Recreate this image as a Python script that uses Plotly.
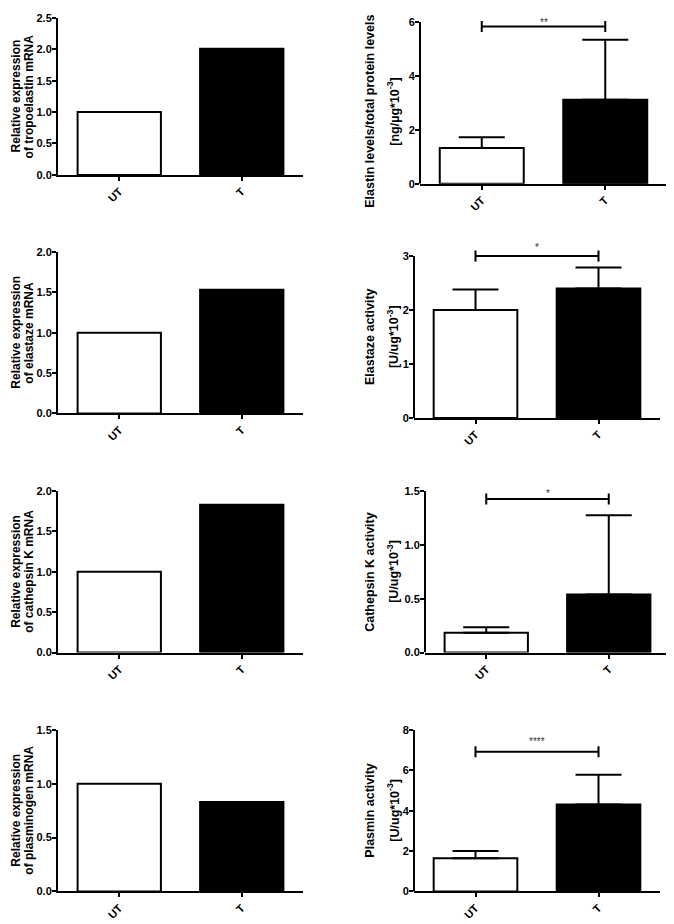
import plotly.graph_objects as go

categories = ["UT", "T"]

# Left column: relative mRNA expression (UT, T)
tropoelastin_mrna = [1.00, 2.01]
elastaze_mrna = [1.00, 1.53]
cathepsin_k_mrna = [1.00, 1.83]
plasminogen_mrna = [1.00, 0.83]

# Right column: protein levels / activities (mean, upward SD)
elastin_levels = [1.33, 3.11]
elastin_levels_sd = [0.39, 2.23]
elastaze_activity = [2.00, 2.40]
elastaze_activity_sd = [0.38, 0.39]
cathepsin_k_activity = [0.185, 0.54]
cathepsin_k_activity_sd = [0.05, 0.735]
plasmin_activity = [1.65, 4.30]
plasmin_activity_sd = [0.35, 1.48]

# Significance brackets for the right column
significance = ["**", "*", "*", "****"]
sig_bracket_y = [5.83, 3.00, 1.427, 6.92]
sig_label_y = [6.04, 3.19, 1.496, 7.54]

# Axis ticks per panel (row-major: L1, R1, L2, R2, ...)
y_max = [2.5, 6, 2.0, 3, 2.0, 1.5, 1.5, 8]
y_dtick = [0.5, 2, 0.5, 1, 0.5, 0.5, 0.5, 2]
y_format = [".1f", "d", ".1f", "d", ".1f", ".1f", ".1f", "d"]

left_titles = [
    ["Relative expression", "of tropoelastin mRNA"],
    ["Relative expression", "of elastaze mRNA"],
    ["Relative expression", "of cathepsin K mRNA"],
    ["Relative expression", "of plasminogen mRNA"],
]
right_titles = [
    ["Elastin levels/total protein levels", "[ng/µg*10<sup>-3</sup>]"],
    ["Elastaze activity", "[U/ug*10<sup>-3</sup>]"],
    ["Cathepsin K activity", "[U/ug*10<sup>-3</sup>]"],
    ["Plasmin activity", "[U/ug*10<sup>-3</sup>]"],
]

left_values = [tropoelastin_mrna, elastaze_mrna, cathepsin_k_mrna, plasminogen_mrna]
right_values = [elastin_levels, elastaze_activity, cathepsin_k_activity, plasmin_activity]
right_sds = [elastin_levels_sd, elastaze_activity_sd, cathepsin_k_activity_sd, plasmin_activity_sd]

# ---- layout (page pixels; the page body has an 8px margin) ----
W, H = 674, 924
OFF = 8
boxes = [  # x0, x1, ytop (top tick), ybottom
    (58, 303, 12, 171), (420, 667, 16, 180),
    (58, 303, 249, 412.7), (414, 660, 253.3, 417.3),
    (58, 303, 491.3, 655), (425, 670, 491.3, 655),
    (58, 303, 733.3, 897), (414, 660, 733.3, 897),
]
left_title_x = (16, 29)
right_title_x = (370, 393)
title_center_shift = [0, 9, 0, 0, 0, 0, 0, 0]
left_title_size = 12
right_title_size = 12.5


def fx(px):
    return (px - OFF) / W


def fy(py):
    return 1 - (py - OFF) / H


FONT = "Liberation Sans"
fig = go.Figure()
layout = dict(
    width=W, height=H, margin=dict(l=0, r=0, t=0, b=0),
    paper_bgcolor="white", plot_bgcolor="white", showlegend=False,
)
shapes, annotations = [], []

for i in range(8):
    row, col = divmod(i, 2)
    n = i + 1
    sfx = str(n) if n > 1 else ""
    xa, ya = "x" + sfx, "y" + sfx
    if col == 0:
        vals, sd, titles, tx = left_values[row], None, left_titles[row], left_title_x
        tsize = left_title_size
    else:
        vals, sd, titles, tx = right_values[row], right_sds[row], right_titles[row], right_title_x
        tsize = right_title_size
    bar = go.Bar(
        x=categories, y=vals, width=0.68, xaxis=xa, yaxis=ya,
        marker=dict(color=["white", "black"], line=dict(color="black", width=2)),
        hoverinfo="x+y",
    )
    if sd is not None:
        bar.error_y = dict(type="data", symmetric=False, array=sd, arrayminus=[0, 0],
                           thickness=2, width=23, color="black")
    fig.add_trace(bar)

    x0, x1, yt, yb = boxes[i]
    h = yb - yt
    # right panels get a little head-room above the top tick for the brackets
    ext = 0.0 if col == 0 else min(14.0, yt - OFF)
    axis_common = dict(
        linewidth=2, linecolor="black", ticks="outside", ticklen=4,
        tickwidth=2, tickcolor="black", showgrid=False, zeroline=False,
        tickfont=dict(family=FONT, size=11, color="black", weight="bold"),
    )
    layout["xaxis" + sfx] = dict(
        axis_common, showline=True, domain=[fx(x0), fx(x1)], anchor=ya, type="category",
        range=[-0.5, 1.5], tickangle=-45,
    )
    layout["yaxis" + sfx] = dict(
        axis_common, showline=(col == 0), domain=[fy(yb), min(1.0, fy(yt - ext))], anchor=xa,
        range=[0, y_max[i] * (1 + ext / h)], dtick=y_dtick[i], tick0=0,
        tickformat=y_format[i], ticklabelstandoff=-2,
    )
    if col == 1:
        # y-axis line stops at the top tick, as in the original
        shapes.append(dict(type="line", xref=xa + " domain", yref=ya, x0=0, x1=0,
                           y0=0, y1=y_max[i], line=dict(color="black", width=2)))
    ymid = fy((yt + yb) / 2 + title_center_shift[i])
    for k in range(2):
        annotations.append(dict(
            text=titles[k], xref="paper", yref="paper", x=fx(tx[k]), y=ymid,
            xanchor="center", yanchor="middle", textangle=-90, showarrow=False,
            font=dict(family=FONT, size=tsize, color="black", weight="bold"),
        ))

    if col == 1:
        b = sig_bracket_y[row]
        shapes.append(dict(type="line", xref=xa, yref=ya, x0=categories[0], x1=categories[1],
                           y0=b, y1=b, line=dict(color="black", width=2)))
        for c in categories:
            shapes.append(dict(type="line", xref=xa, yref=ya, x0=c, x1=c,
                               ysizemode="pixel", yanchor=b, y0=-5.5, y1=5.5,
                               line=dict(color="black", width=2)))
        annotations.append(dict(
            text=significance[row], xref=xa, yref=ya, x=0.5, y=sig_label_y[row],
            xanchor="center", yanchor="middle", showarrow=False, yshift=-2,
            font=dict(family=FONT, size=10, color="#333333"),
        ))

layout["shapes"] = shapes
layout["annotations"] = annotations
fig.update_layout(**layout)
fig.write_html("out.html")
